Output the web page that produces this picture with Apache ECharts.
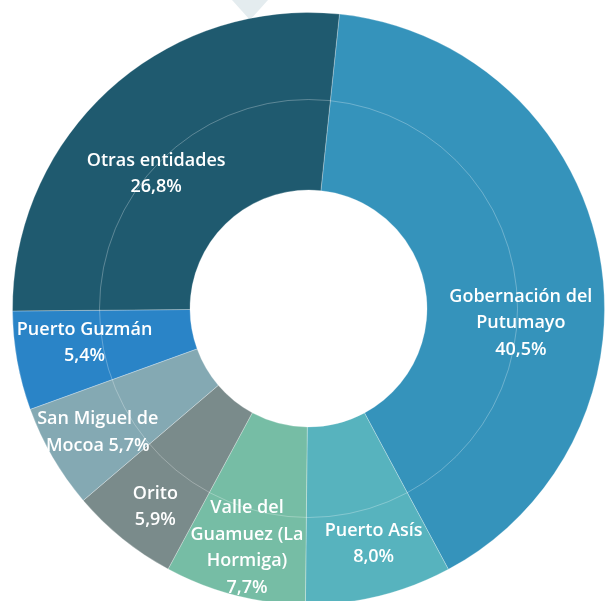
<!DOCTYPE html>
<html>
<head>
<meta charset="utf-8">
<script src="https://cdn.jsdelivr.net/npm/echarts@6/dist/echarts.min.js"></script>
<style>
html,body{margin:0;padding:0;background:#fff;}
#chart{width:605px;height:601px;}
</style>
</head>
<body>
<div id="chart"></div>
<script>
// Data
var categories = ["Gobernación del Putumayo", "Puerto Asís", "Valle del Guamuez (La Hormiga)", "Orito", "San Miguel de Mocoa", "Puerto Guzmán", "Otras entidades"];
var labelText = ["Gobernación del\nPutumayo", "Puerto Asís", "Valle del\nGuamuez (La\nHormiga)", "Orito", "San Miguel de", "Puerto Guzmán", "Otras entidades"];
var labelSep = ["\n", "\n", "\n", "\n", "\nMocoa ", "\n", "\n"];
var values = [40.5, 8.0, 7.7, 5.9, 5.7, 5.4, 26.8];

// Styling
var colors = ["#3593bb", "#57b3be", "#76bda5", "#7a8b8b", "#84a9b3", "#2a84c7", "#1f5a6f"];
var labelOffsets = [[6, 55], [15, 31], [-9, 36], [-21, 35], [-29, 18], [-17, -3], [-11, 21]];

var cx = 308.5, cy = 308.5;

var seriesData = categories.map(function (c, i) {
  return {
    name: c,
    value: values[i],
    itemStyle: { color: colors[i] },
    label: { offset: labelOffsets[i] }
  };
});

var chart = echarts.init(document.getElementById('chart'), null, { renderer: 'canvas' });
chart.setOption({
  animation: false,
  graphic: [
    {
      type: 'polygon', z: -1,
      shape: { points: [[232, 0], [268, 0], [250, 20]] },
      style: { fill: '#e4ecef' }
    },
    {
      type: 'circle', z: 100, silent: true,
      shape: { cx: cx, cy: cy, r: 209 },
      style: { fill: 'none', stroke: 'rgba(255,255,255,0.35)', lineWidth: 0.8 }
    }
  ],
  series: [{
    type: 'pie',
    center: [cx, cy],
    radius: [118.5, 296],
    startAngle: 84,
    clockwise: true,
    avoidLabelOverlap: false,
    itemStyle: { borderColor: 'rgba(255,255,255,0.45)', borderWidth: 0.6 },
    label: {
      show: true,
      position: 'inside',
      color: '#ffffff',
      fontFamily: 'Open Sans',
      fontWeight: 600,
      fontSize: 18,
      lineHeight: 26.5,
      align: 'center',
      formatter: function (p) {
        var i = p.dataIndex;
        return labelText[i] + labelSep[i] + values[i].toFixed(1).replace('.', ',') + '%';
      }
    },
    labelLine: { show: false },
    emphasis: { disabled: true },
    data: seriesData
  }]
});
</script>
</body>
</html>
